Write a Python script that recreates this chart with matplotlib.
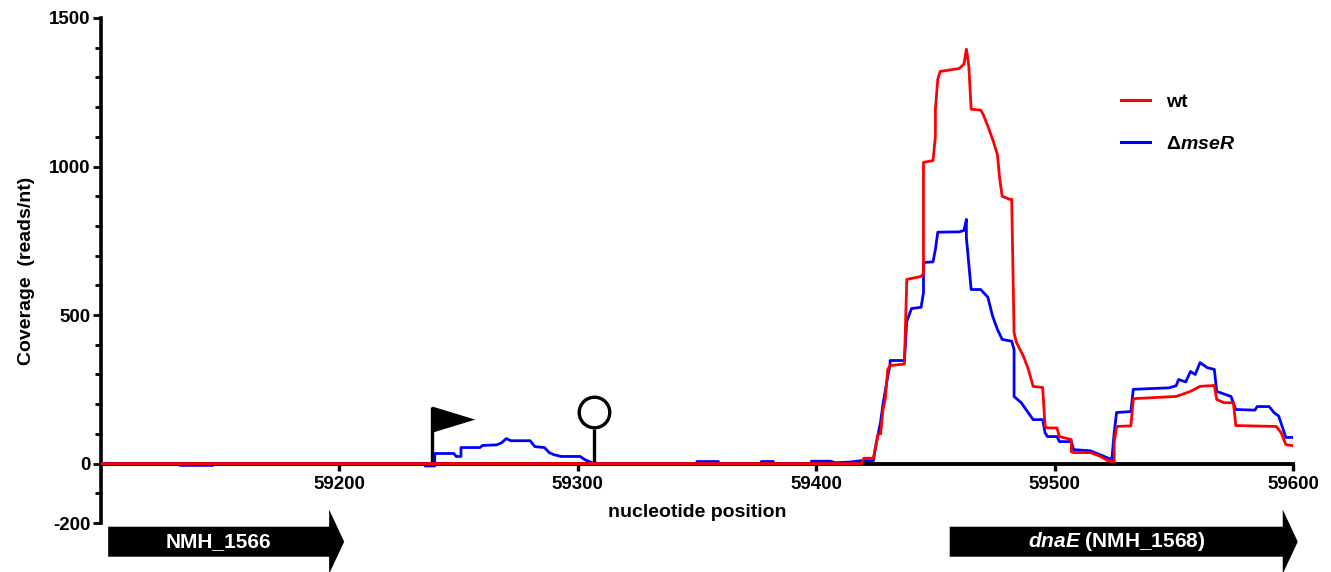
import matplotlib
matplotlib.use('Agg')
import matplotlib.pyplot as plt
from matplotlib.patches import FancyArrow
from matplotlib.lines import Line2D
from matplotlib.ticker import MultipleLocator

plt.rcParams['font.family'] = ['Liberation Sans', 'DejaVu Sans']
plt.rcParams['font.weight'] = 'bold'
plt.rcParams['axes.labelweight'] = 'bold'
plt.rcParams['axes.unicode_minus'] = False
plt.rcParams['mathtext.fontset'] = 'custom'
plt.rcParams['mathtext.it'] = 'Liberation Sans:italic:bold'
plt.rcParams['mathtext.rm'] = 'Liberation Sans:bold'
plt.rcParams['mathtext.bf'] = 'Liberation Sans:bold'

# ---- data ----
wt_pos = [59100, 59419, 59420, 59424, 59425, 59426, 59427, 59428, 59429, 59430,
          59431, 59437, 59438, 59444, 59445, 59445, 59449, 59450, 59450, 59451,
          59452, 59460, 59462, 59463, 59464, 59465, 59469, 59470, 59472, 59474,
          59476, 59477, 59478, 59481, 59482, 59483, 59484, 59487, 59489, 59491,
          59495, 59496, 59497, 59501, 59502, 59507, 59507, 59508, 59515, 59519,
          59523, 59525, 59525, 59526, 59532, 59533, 59534, 59551, 59557, 59561,
          59567, 59568, 59571, 59575, 59576, 59593, 59595, 59597, 59600]
wt_cov = [0, 0, 18, 18, 60, 100, 100, 180, 220, 317,
          330, 335, 620, 630, 640, 1014, 1020, 1102, 1193, 1294,
          1320, 1330, 1345, 1395, 1340, 1193, 1190, 1176, 1136, 1092,
          1041, 957, 900, 890, 890, 441, 408, 360, 317, 260,
          256, 125, 120, 120, 91, 81, 40, 37, 37, 25,
          7, 7, 71, 125, 127, 216, 219, 226, 243, 260,
          263, 216, 205, 205, 128, 125, 104, 64, 60]

mse_pos = [59100, 59133, 59133, 59147, 59147, 59236, 59236, 59240, 59240, 59248,
           59249, 59251, 59251, 59259, 59260, 59266, 59268, 59270, 59272, 59280,
           59282, 59286, 59288, 59290, 59293, 59301, 59303, 59306, 59309, 59350,
           59350, 59359, 59359, 59377, 59377, 59382, 59382, 59398, 59398, 59406,
           59408, 59414, 59419, 59424, 59425, 59427, 59428, 59430, 59431, 59431,
           59437, 59438, 59440, 59444, 59445, 59445, 59449, 59450, 59451, 59460,
           59462, 59463, 59463, 59465, 59469, 59472, 59474, 59476, 59478, 59482,
           59483, 59483, 59486, 59488, 59491, 59495, 59496, 59497, 59501, 59502,
           59507, 59508, 59515, 59519, 59522, 59524, 59525, 59526, 59532, 59533,
           59548, 59551, 59552, 59555, 59557, 59559, 59561, 59564, 59567, 59568,
           59574, 59576, 59584, 59585, 59590, 59592, 59594, 59597, 59600]
mse_cov = [0, 0, -6, -6, 0, 0, -8, -8, 34, 34,
           24, 24, 54, 54, 61, 63, 70, 84, 77, 77,
           57, 54, 37, 30, 24, 24, 13, 3, 0, 0,
           7, 7, 0, 0, 7, 7, 0, 0, 8, 8,
           3, 5, 10, 10, 60, 140, 199, 293, 333, 347,
           347, 479, 522, 526, 576, 677, 679, 721, 779, 780,
           785, 822, 760, 586, 586, 560, 496, 452, 418, 412,
           384, 226, 205, 182, 148, 148, 104, 91, 91, 74,
           74, 47, 43, 30, 20, 13, 104, 172, 175, 250,
           255, 262, 283, 275, 310, 300, 340, 323, 317, 243,
           226, 182, 180, 192, 192, 172, 160, 88, 88]

series_labels = ['wt', r'$\Delta$$\it{mseR}$']
series_colors = ['#ff0000', '#0000ff']

x_ticks = [59200, 59300, 59400, 59500, 59600]
y_ticks = [-200, 0, 500, 1000, 1500]

gene_names = ['NMH_1566', r'$\it{dnaE}$ (NMH_1568)']
gene_start = [59103, 59456]
gene_end = [59202, 59602]

promoter_pos = 59239
terminator_pos = 59307

# ---- figure ----
fig = plt.figure(figsize=(13.31, 5.72), dpi=100)
ax = fig.add_axes([101 / 1331, 1 - 523 / 572, (1293 - 101) / 1331, (523 - 18) / 572])

ax.plot(mse_pos, mse_cov, color=series_colors[1], lw=2.0, zorder=3)
ax.plot(wt_pos, wt_cov, color=series_colors[0], lw=2.0, zorder=3.1)

ax.set_xlim(59100, 59600)
ax.set_ylim(-200, 1500)

for s in ['top', 'right']:
    ax.spines[s].set_visible(False)
ax.spines['bottom'].set_position(('data', 0))
ax.spines['bottom'].set_linewidth(2.8)
ax.spines['left'].set_linewidth(2.6)

ax.set_xticks(x_ticks)
ax.set_xticklabels([str(t) for t in x_ticks])
ax.set_yticks(y_ticks)
ax.yaxis.set_minor_locator(MultipleLocator(100))
ax.tick_params(axis='x', direction='out', length=5, width=2.4, pad=4, labelsize=13.5)
ax.tick_params(axis='y', which='major', direction='out', length=6, width=2.0, pad=1.5, labelsize=13.5)
ax.tick_params(axis='y', which='minor', direction='out', length=4, width=2.0)

ax.set_xlabel('nucleotide position', fontsize=14, fontweight='bold', labelpad=8)
ax.set_ylabel('Coverage  (reads/nt)', fontsize=14, fontweight='bold', labelpad=10)

# promoter flag
ax.plot([promoter_pos, promoter_pos], [0, 192], color='black', lw=2.4, zorder=2.8,
        solid_capstyle='butt')
ax.fill([promoter_pos, promoter_pos + 18, promoter_pos], [192, 148, 104],
        color='black', zorder=2.8, lw=0)

# terminator lollipop
ax.plot([terminator_pos, terminator_pos], [0, 118], color='black', lw=2.4, zorder=2.8,
        solid_capstyle='butt')
ax.plot([terminator_pos], [172], marker='o', ms=22, mfc='white', mec='black', mew=2.4,
        zorder=2.9)

# gene arrows
for name, s, e in zip(gene_names, gene_start, gene_end):
    arr = FancyArrow(s, -263, e - s, 0, width=101, head_width=216, head_length=6.3,
                     length_includes_head=True, color='black', clip_on=False, lw=0)
    ax.add_patch(arr)
    ax.text((s + e - 6.3) / 2, -263, name, color='white', fontsize=15, fontweight='bold',
            ha='center', va='center', clip_on=False)

handles = [Line2D([], [], color=c, lw=2.2) for c in series_colors]
ax.legend(handles, series_labels, loc='upper left', bbox_to_anchor=(1121 / 1331, 1 - 93 / 572),
          bbox_transform=fig.transFigure, frameon=False, fontsize=14, handlelength=1.5,
          handletextpad=0.8, labelspacing=1.25, borderpad=0, borderaxespad=0)

fig.savefig('out.png', dpi=100)
